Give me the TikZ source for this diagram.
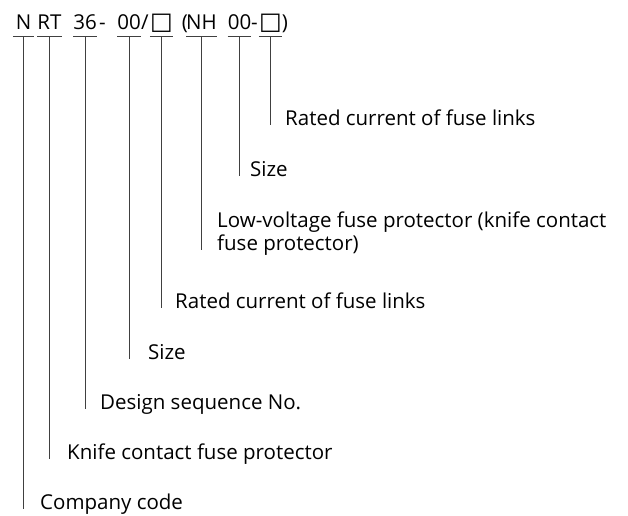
\documentclass[tikz,border=0pt]{standalone}
\usepackage{fontspec}
\setmainfont{Open Sans}
\newfontfamily\symfont{DejaVu Sans}
\begin{document}
\begin{tikzpicture}[x=1pt, y=-1pt, font=\fontsize{20.5}{23}\selectfont,
  tok/.style={anchor=base, inner xsep=0pt, inner ysep=0pt, text depth=7pt, minimum width=21pt},
  sep/.style={anchor=base, inner sep=0pt},
  box/.style={font=\symfont\fontsize{24}{23}\selectfont},
  lbl/.style={anchor=base west, inner sep=0pt, align=left},
  lead/.style={black!75, line width=0.8pt}]
\useasboundingbox (0,0) rectangle (628,515);
% type designation
\node[tok] (n) at (23.5,29) {N};
\node[tok] (rt) at (49.5,29) {RT};
\node[tok] (seq) at (85,29) {36};
\node[sep] (d1) at (102.5,29) {-};
\node[tok] (sz) at (129,29) {00};
\node[sep] (sl) at (145,29) {/};
\node[tok, box] (cur) at (161.5,29) {□};
\node[sep] (lp) at (185,29) {(};
\node[tok] (nh) at (201.5,29) {NH};
\node[tok] (nsz) at (239.5,29) {00};
\node[sep] (d2) at (254.5,29) {-};
\node[tok, box] (ncur) at (270.5,29) {□};
\node[sep] (rp) at (285,29) {)};
% meanings
\node[lbl] (l1) at (40,509) {Company code};
\node[lbl] (l2) at (67,459) {Knife contact fuse protector};
\node[lbl] (l3) at (100,409) {Design sequence No.};
\node[lbl] (l4) at (148,359) {Size};
\node[lbl] (l5) at (175,308) {Rated current of fuse links};
\node[lbl] (l6) at (217,250) {Low-voltage fuse protector (knife contact\\fuse protector)};
\node[lbl] (l7) at (250,176) {Size};
\node[lbl] (l8) at (285,125) {Rated current of fuse links};
% leaders
\draw[lead](n.south west)--(n.south east) (n.south)--(n.south |- l1.base);
\draw[lead](rt.south west)--(rt.south east) (rt.south)--(rt.south |- l2.base);
\draw[lead](seq.south west)--(seq.south east) (seq.south)--(seq.south |- l3.base);
\draw[lead](sz.south west)--(sz.south east) (sz.south)--(sz.south |- l4.base);
\draw[lead](cur.south west)--(cur.south east) (cur.south)--(cur.south |- l5.base);
\draw[lead](nh.south west)--(nh.south east) (nh.south)--(nh.south |- l6.base);
\draw[lead](nsz.south west)--(nsz.south east) (nsz.south)--(nsz.south |- l7.base);
\draw[lead](ncur.south west)--(ncur.south east) (ncur.south)--(ncur.south |- l8.base);

\end{tikzpicture}
\end{document}
